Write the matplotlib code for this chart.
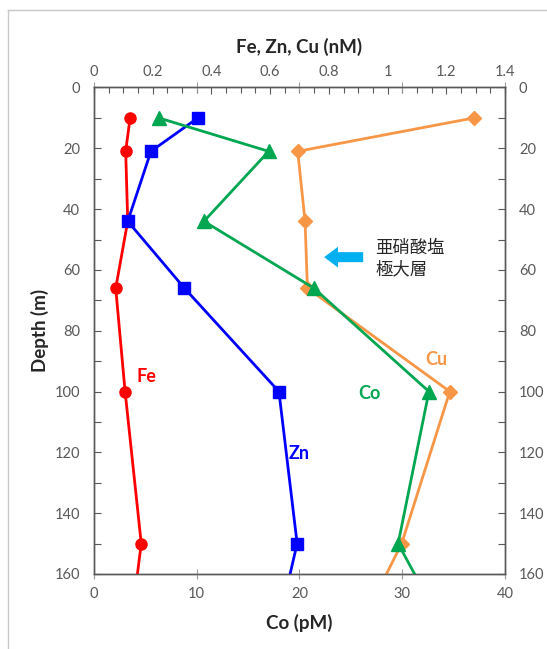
import numpy as np
import matplotlib
matplotlib.use("Agg")
import matplotlib.pyplot as plt
from matplotlib.lines import Line2D
from matplotlib.patches import FancyArrowPatch
from matplotlib.ticker import MultipleLocator

plt.rcParams['font.family'] = ['Lato', 'DejaVu Sans']

# sampling depths (m); last point lies below the plotted range
depth = [10, 21, 44, 66, 100, 150, 200]
fe = [0.123, 0.108, 0.115, 0.074, 0.106, 0.161, 0.096]   # nM
zn = [0.354, 0.194, 0.115, 0.308, 0.630, 0.692, 0.572]   # nM
cu = [1.295, 0.694, 0.719, 0.727, 1.212, 1.048, 0.79]    # nM
co = [6.3, 17.0, 10.7, 21.4, 32.6, 29.6, 37.6]           # pM

depth_ticks = np.arange(0, 161, 20)
nm_ticks = [0, 0.2, 0.4, 0.6, 0.8, 1, 1.2, 1.4]
nm_labels = ['0', '0.2', '0.4', '0.6', '0.8', '1', '1.2', '1.4']
pm_ticks = [0, 10, 20, 30, 40]

c_fe = '#FF0000'
c_zn = '#0000FF'
c_cu = '#F79646'
c_co = '#00A650'
grey = '#595959'

fig = plt.figure(figsize=(5.47, 6.49), dpi=100)
ax = fig.add_axes([0.1718, 0.1156, 0.7514, 0.7496])
ax2 = ax.twiny()
ax.set_zorder(2)
ax2.set_zorder(1)
ax.patch.set_visible(False)

lw = 2.0
ax2.plot(fe, depth, color=c_fe, lw=lw, marker='o', ms=8, zorder=3)
ax2.plot(zn, depth, color=c_zn, lw=lw, marker='s', ms=8, zorder=4)
ax2.plot(cu, depth, color=c_cu, lw=lw, marker='D', ms=7, zorder=3)
ax.plot(co, depth, color=c_co, lw=lw, marker='^', ms=9.5, zorder=3)

ax.set_xlim(0, 40)
ax2.set_xlim(0, 1.4)
ax.set_ylim(160, 0)

# depth axes on both sides
ax.set_yticks(depth_ticks)
ax.yaxis.set_minor_locator(MultipleLocator(10))
ax.tick_params(axis='y', which='both', direction='in', length=5, width=0.8,
               color=grey, labelcolor=grey, labelsize=10.5, pad=10,
               left=True, right=True, labelleft=True, labelright=True)

# Co axis (bottom)
ax.set_xticks(pm_ticks)
ax.tick_params(axis='x', which='major', direction='inout', length=7, width=0.8,
               color='#9a9a9a', labelcolor=grey, labelsize=10.5, pad=6,
               top=True, bottom=True)

# Fe/Zn/Cu axis (top)
ax2.set_xticks(nm_ticks)
ax2.set_xticklabels(nm_labels)
ax2.xaxis.set_minor_locator(MultipleLocator(0.05))
ax2.tick_params(axis='x', which='major', direction='in', length=5, width=0.8,
                color=grey, labelcolor=grey, labelsize=10.5, pad=6)
ax2.tick_params(axis='x', which='minor', direction='in', length=4, width=0.8,
                color=grey)

for a in (ax, ax2):
    for s in a.spines.values():
        s.set_color(grey)
        s.set_linewidth(1.0)

ax.set_xlabel('Co (pM)', fontsize=13.5, fontweight='bold', color='#262626', labelpad=9)
ax.set_ylabel('Depth (m)', fontsize=13.5, fontweight='bold', color='#262626', labelpad=4)
ax2.set_xlabel('Fe, Zn, Cu (nM)', fontsize=13.5, fontweight='bold', color='#262626', labelpad=9)

# series labels
ax2.text(0.18, 95, 'Fe', color=c_fe, fontsize=13, fontweight='bold', ha='center', va='center')
ax2.text(0.70, 120.5, 'Zn', color=c_zn, fontsize=13, fontweight='bold', ha='center', va='center')
ax2.text(1.167, 89.6, 'Cu', color=c_cu, fontsize=13, fontweight='bold', ha='center', va='center')
ax.text(26.8, 100.8, 'Co', color=c_co, fontsize=13, fontweight='bold', ha='center', va='center')

# nitrite maximum marker
arrow = FancyArrowPatch((26.2, 55.8), (22.4, 55.8),
                        arrowstyle='simple,head_width=1.5,head_length=1.0,tail_width=0.72',
                        mutation_scale=10, color='#00B0F0', shrinkA=0, shrinkB=0, lw=0)
ax.add_patch(arrow)
ax.text(27.35, 56.2, '亜硝酸塩\n極大層', fontsize=12.5, ha='left', va='center',
        linespacing=1.25, color='#262626',
        family=['Noto Sans CJK JP', 'DejaVu Sans'])

# frame around the figure area
fig.add_artist(Line2D([8 / 547, 1], [1 - 10 / 649, 1 - 10 / 649], color='#c8c8c8', lw=1))
fig.add_artist(Line2D([8 / 547, 8 / 547], [0, 1 - 10 / 649], color='#c8c8c8', lw=1))

fig.savefig('out.png', dpi=100)
